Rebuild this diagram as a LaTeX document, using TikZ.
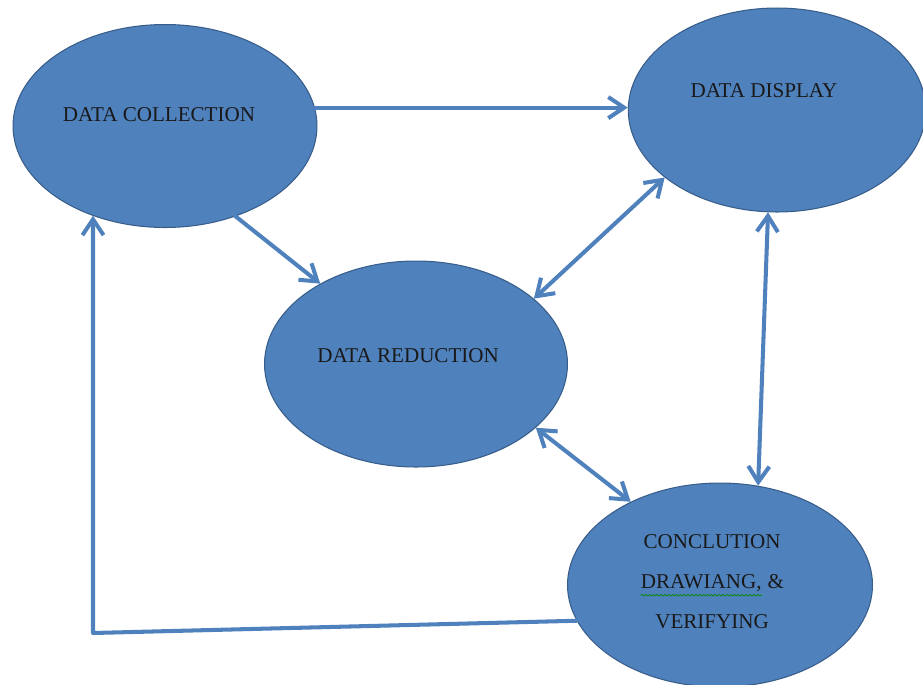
\documentclass[tikz,border=0pt]{standalone}
\usepackage{fontspec}
\setmainfont{Liberation Serif}
\usetikzlibrary{arrows.meta,shapes.geometric,decorations.pathmorphing}

\definecolor{stepblue}{HTML}{4F81BD}
\definecolor{stepedge}{HTML}{385D8A}

\tikzset{
	blob/.style={ellipse, draw=stepedge, line width=0.6pt, fill=stepblue, inner sep=0pt},
	blobtext/.style={font=\fontsize{12}{22.7}\selectfont, align=center, text=black!90},
	flow/.style={draw=stepblue, line width=2.3pt, line cap=round, line join=round,
		-{Straight Barb[length=9pt,width=12pt]}},
	twoway/.style={flow, {Straight Barb[length=9pt,width=12pt]}-{Straight Barb[length=9pt,width=12pt]}}
}

\newcommand{\spellmark}[1]{\tikz[baseline=(w.base)]{\node[inner sep=0pt] (w) {#1};
	\draw[green!55!black, line width=0.4pt, decorate, decoration={snake, amplitude=0.45pt, segment length=2.2pt}]
	([yshift=-1.6pt]w.south west) -- ([yshift=-1.6pt]w.south east);}}

\begin{document}
\begin{tikzpicture}[x=0.02cm, y=-0.02cm]
		%%%%% START %%%%%
		\useasboundingbox (0, 0) rectangle (923, 684);
		
		\node[blob, minimum width=6.08cm, minimum height=4.06cm,
			label={[blobtext, xshift=-3.4pt, yshift=6.5pt]center:DATA COLLECTION}] (dc) at (165, 126) {};
		\node[blob, minimum width=5.95cm, minimum height=4.08cm,
			label={[blobtext, xshift=-7.4pt, yshift=11.3pt]center:DATA DISPLAY}] (dd) at (777, 110) {};
		\node[blob, minimum width=6.06cm, minimum height=4.12cm,
			label={[blobtext, xshift=-4.5pt, yshift=4.8pt]center:DATA REDUCTION}] (dr) at (416, 364) {};
		\node[blob, minimum width=6.1cm, minimum height=4.08cm,
			label={[blobtext, xshift=-4.5pt, yshift=1.7pt]center:CONCLUTION\\\spellmark{DRAWIANG,} \&\\VERIFYING}] (cv) at (720, 585) {};
		
		% one way
		\draw[flow] (dc.7) -- (dc.7 -| dd.west);
		\draw[flow] (dc.-52) -- (dr.140);
		
		% both ways
		\draw[twoway] (dr.29) -- (dd.211);
		\draw[twoway] (dd.265) -- (cv.69);
		\draw[twoway] (dr.-28) -- (cv.137);
		
		% back round to the start
		\coordinate (turn) at (93, 633);
		\draw[flow] (cv.194) -- (turn) -- (turn |- dc.231);
		
		%%%%% END %%%%%
	\end{tikzpicture}
\end{document}
